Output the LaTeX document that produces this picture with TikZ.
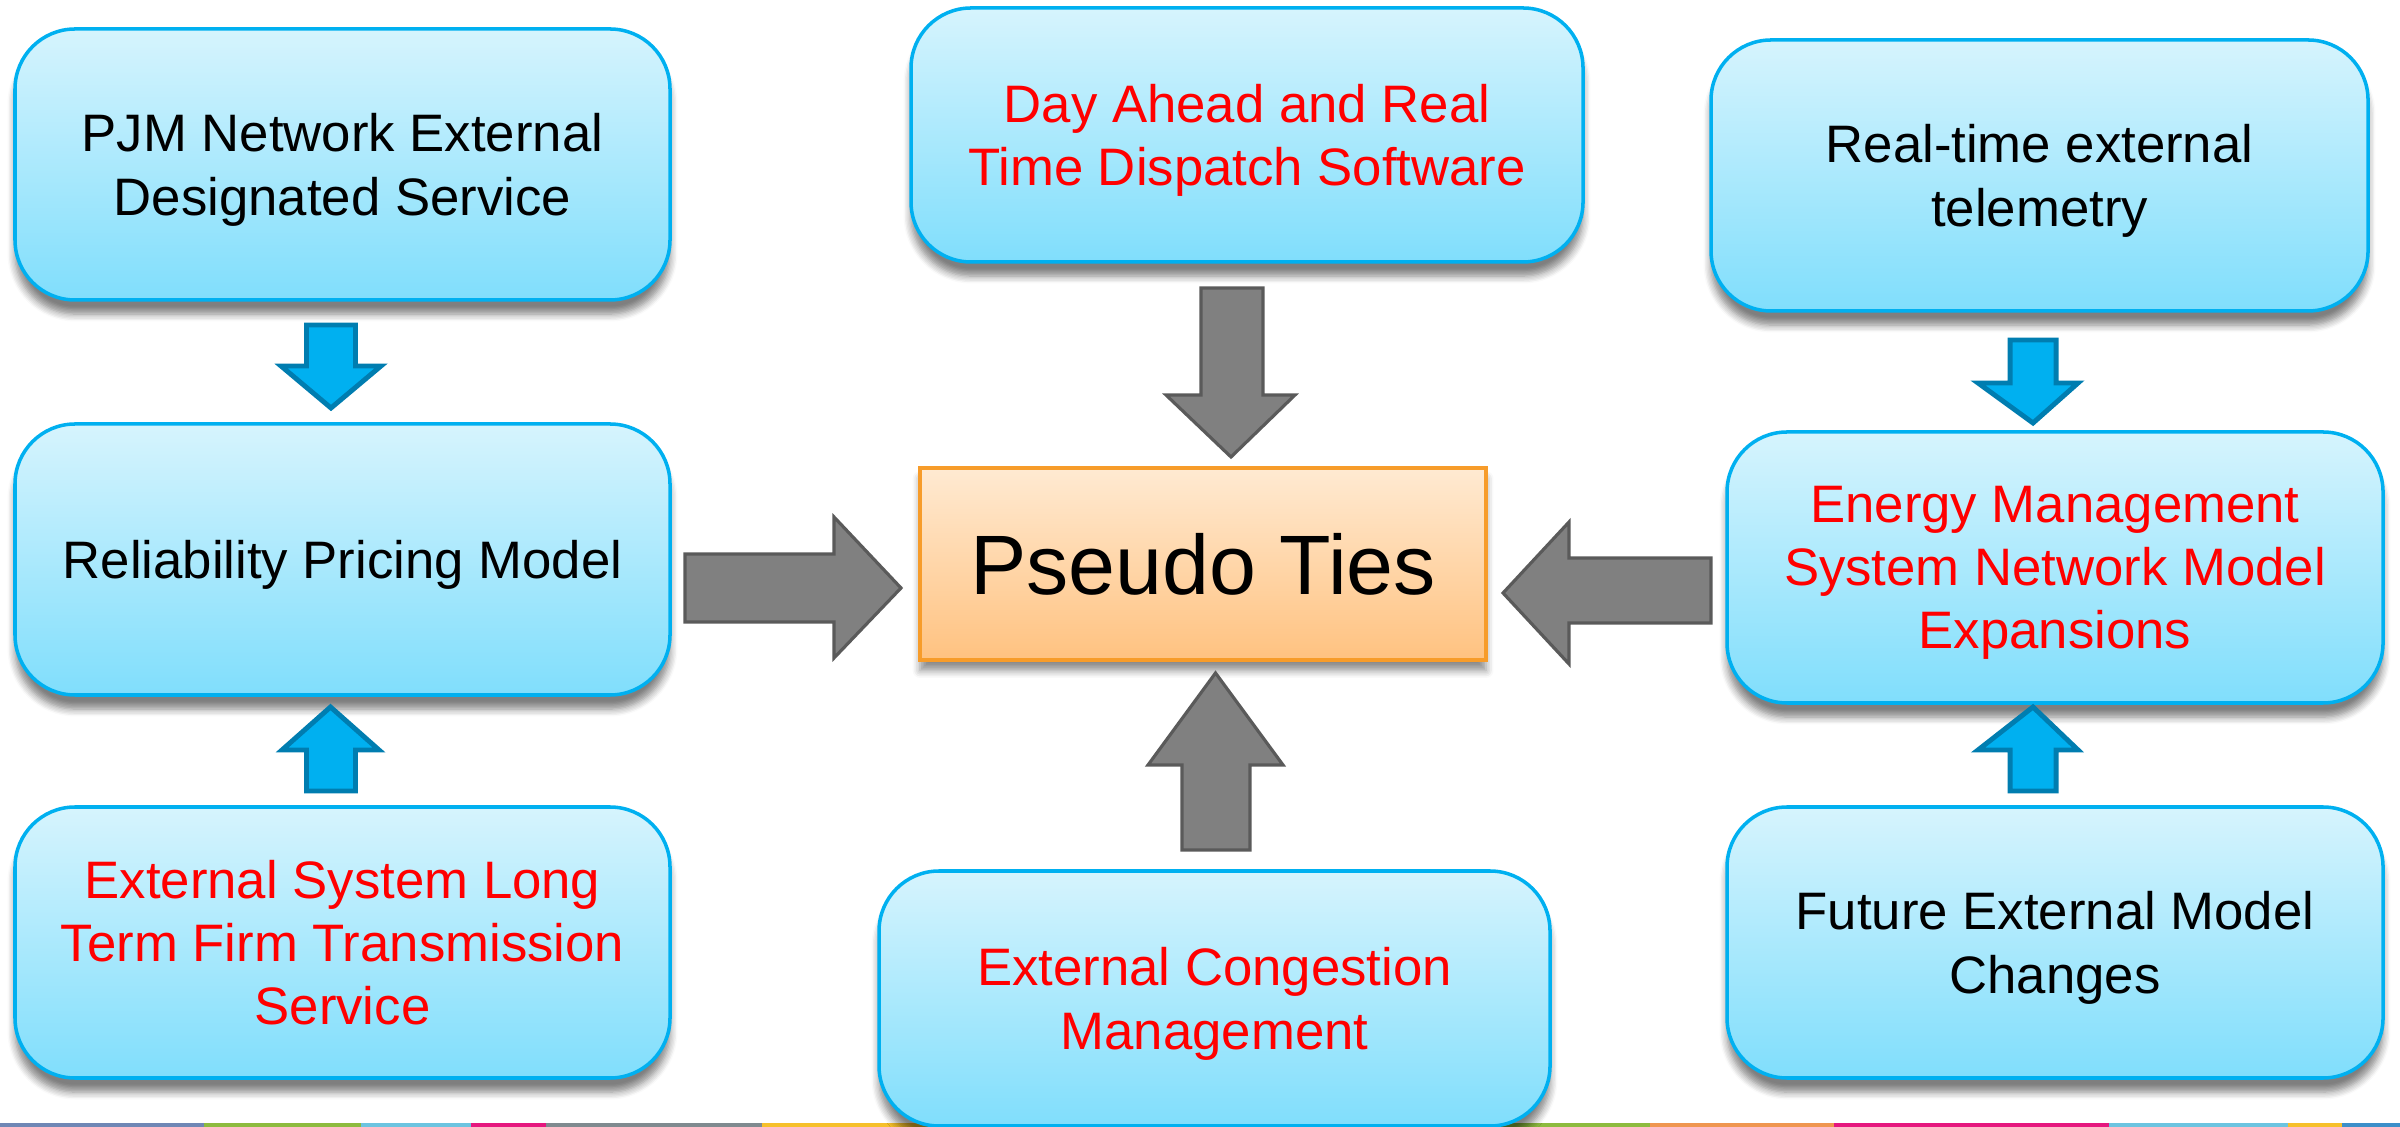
\documentclass[tikz,border=0pt]{standalone}
\usepackage{fontspec}
\setmainfont{Liberation Sans}
\usetikzlibrary{shadows.blur}
\definecolor{boxtop}{RGB}{214,244,253}
\definecolor{boxbot}{RGB}{128,222,252}
\definecolor{boxline}{RGB}{0,176,240}
\definecolor{ptop}{RGB}{255,234,210}
\definecolor{pbot}{RGB}{255,194,128}
\definecolor{pline}{RGB}{247,156,42}
\definecolor{garrow}{RGB}{128,128,128}
\definecolor{garrowline}{RGB}{90,90,90}
\definecolor{barrow}{RGB}{0,176,240}
\definecolor{barrowline}{RGB}{0,125,176}
\definecolor{txtred}{RGB}{255,0,0}
\definecolor{sA}{RGB}{111,135,181}
\definecolor{sB}{RGB}{141,187,63}
\definecolor{sC}{RGB}{108,196,224}
\definecolor{sD}{RGB}{229,23,126}
\definecolor{sE}{RGB}{127,138,143}
\definecolor{sF}{RGB}{246,192,43}
\definecolor{sG}{RGB}{239,150,80}
\definecolor{sH}{RGB}{60,143,201}
\tikzset{
  bluebox/.style={rectangle, rounded corners=0.6cm, draw=boxline, line width=1pt,
    top color=boxtop, bottom color=boxbot, align=center, text depth=-0.3pt,
    blur shadow={shadow xshift=0pt, shadow yshift=-4pt, shadow blur steps=6, shadow opacity=50},
    font=\fontsize{15}{18}\selectfont, inner sep=0pt},
  redtxt/.style={text=txtred},
  ptbox/.style={rectangle, draw=pline, line width=1pt, top color=ptop, bottom color=pbot,
    blur shadow={shadow xshift=0pt, shadow yshift=-3pt, shadow blur steps=5, shadow opacity=45},
    font=\fontsize{24}{28}\selectfont, minimum width=5.66cm, minimum height=1.92cm, inner sep=0pt},
  grayarrow/.style={fill=garrow, draw=garrowline, line width=0.9pt, line join=miter},
  bluearrow/.style={fill=barrow, draw=barrowline, line width=1.4pt, line join=miter},
}
\begin{document}
\begin{tikzpicture}
\useasboundingbox (0,0) rectangle (24,-11.27);
% bottom colour strip
\foreach \a/\b/\c in {0/2.04/sA,2.04/3.61/sB,3.61/4.71/sC,4.71/5.46/sD,5.46/7.62/sE,7.62/11.0/sF,11.0/16.50/sB,16.50/18.34/sG,18.34/21.09/sD,21.09/22.88/sC,22.88/23.42/sF,23.42/24/sH}{
  \fill[\c] (\a,-11.23) rectangle (\b,-11.27);
}
% boxes
\node[bluebox, minimum width=6.55cm, minimum height=2.71cm] (pjm) at (3.425,-1.645) {PJM Network External\\Designated Service};
\node[bluebox, minimum width=6.55cm, minimum height=2.71cm] (rpm) at (3.425,-5.595) {Reliability Pricing Model};
\node[bluebox, redtxt, minimum width=6.55cm, minimum height=2.71cm] (ltf) at (3.425,-9.425) {External System Long\\Term Firm Transmission\\Service};
\node[bluebox, redtxt, minimum width=6.72cm, minimum height=2.54cm] (dart) at (12.47,-1.35) {Day Ahead and Real\\Time Dispatch Software};
\node[bluebox, redtxt, minimum width=6.71cm, minimum height=2.55cm] (ecm) at (12.145,-9.985) {External Congestion\\Management};
\node[bluebox, minimum width=6.57cm, minimum height=2.71cm] (tel) at (20.395,-1.755) {Real-time external\\telemetry};
\node[bluebox, redtxt, minimum width=6.56cm, minimum height=2.71cm] (ems) at (20.55,-5.675) {Energy Management\\System Network Model\\Expansions};
\node[bluebox, minimum width=6.56cm, minimum height=2.71cm] (fut) at (20.55,-9.425) {Future External Model\\Changes};
\node[ptbox] (pt) at (12.03,-5.64) {Pseudo Ties};
% gray block arrows
\draw[grayarrow] (6.85,-5.54) -- (8.34,-5.54) -- (8.34,-5.17) -- (9.01,-5.88) -- (8.34,-6.58) -- (8.34,-6.22) -- (6.85,-6.22) -- cycle;
\draw[grayarrow] (17.11,-5.58) -- (15.69,-5.58) -- (15.69,-5.22) -- (15.03,-5.93) -- (15.69,-6.64) -- (15.69,-6.23) -- (17.11,-6.23) -- cycle;
\draw[grayarrow] (12.01,-2.88) -- (12.63,-2.88) -- (12.63,-3.95) -- (12.95,-3.95) -- (12.31,-4.57) -- (11.66,-3.95) -- (12.01,-3.95) -- cycle;
\draw[grayarrow] (11.82,-8.50) -- (12.50,-8.50) -- (12.50,-7.65) -- (12.83,-7.65) -- (12.155,-6.73) -- (11.48,-7.65) -- (11.82,-7.65) -- cycle;
% blue block arrows
\draw[bluearrow] (3.065,-3.25) -- (3.555,-3.25) -- (3.555,-3.66) -- (3.81,-3.66) -- (3.31,-4.08) -- (2.81,-3.66) -- (3.065,-3.66) -- cycle;
\draw[bluearrow] (3.065,-7.91) -- (3.555,-7.91) -- (3.555,-7.50) -- (3.79,-7.50) -- (3.305,-7.07) -- (2.82,-7.50) -- (3.065,-7.50) -- cycle;
\draw[bluearrow] (20.10,-3.40) -- (20.56,-3.40) -- (20.56,-3.83) -- (20.78,-3.83) -- (20.33,-4.23) -- (19.78,-3.83) -- (20.10,-3.83) -- cycle;
\draw[bluearrow] (20.10,-7.91) -- (20.56,-7.91) -- (20.56,-7.50) -- (20.78,-7.50) -- (20.33,-7.07) -- (19.78,-7.50) -- (20.10,-7.50) -- cycle;
\end{tikzpicture}
\end{document}
